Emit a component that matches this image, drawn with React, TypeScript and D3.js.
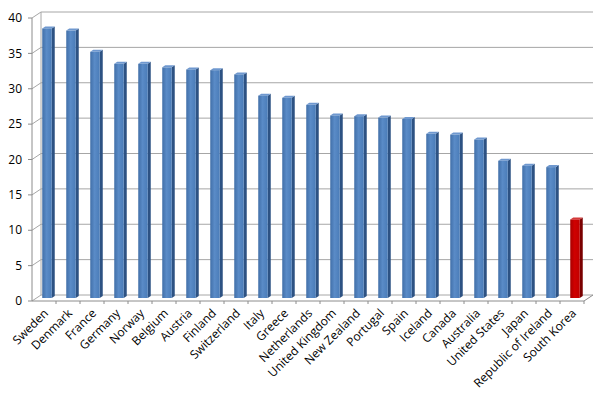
import * as d3 from "d3";

const countries = [
  "Sweden", "Denmark", "France", "Germany", "Norway", "Belgium", "Austria",
  "Finland", "Switzerland", "Italy", "Greece", "Netherlands", "United Kingdom",
  "New Zealand", "Portugal", "Spain", "Iceland", "Canada", "Australia",
  "United States", "Japan", "Republic of Ireland", "South Korea",
];
const values = [
  38.1, 37.8, 34.8, 33.1, 33.1, 32.6, 32.3, 32.2, 31.6, 28.6, 28.3, 27.3, 25.8,
  25.7, 25.5, 25.3, 23.2, 23.1, 22.4, 19.4, 18.7, 18.5, 11.1,
];
const yTicks = [0, 5, 10, 15, 20, 25, 30, 35, 40];
const highlight = "South Korea";

// 3d depth offset between front edge of floor and back wall
const DX = 9;
const DY = -6;

export default function App() {
  const W = 600;
  const H = 393;

  const x = d3.scaleBand<string>().domain(countries).range([32, 584]);
  const yFront = d3.scaleLinear().domain([0, 40]).range([301, 18]);
  const yBack = (v: number) => yFront(v) + DY;
  const yMid = (v: number) => yFront(v) + DY / 2;

  const bw = x.bandwidth();
  const barW = 9.5;
  const depth = 3;
  const rise = 2;

  const grid = "#a6a6a6";
  const axis = "#8c8c8c";

  return (
    <svg
      width={W}
      height={H}
      style={{ position: "fixed", left: 0, top: 0, background: "#fff" }}
      fontFamily="Open Sans, sans-serif"
    >
      <defs>
        <linearGradient id="blueFront" x1="0" x2="1" y1="0" y2="0">
          <stop offset="0" stopColor="#416fa8" />
          <stop offset="0.45" stopColor="#5a8bc7" />
          <stop offset="1" stopColor="#4a7cb8" />
        </linearGradient>
        <linearGradient id="redFront" x1="0" x2="1" y1="0" y2="0">
          <stop offset="0" stopColor="#a80000" />
          <stop offset="0.45" stopColor="#d00000" />
          <stop offset="1" stopColor="#c00000" />
        </linearGradient>
      </defs>

      {/* back wall gridlines + left wall diagonals */}
      {yTicks.map((t) => (
        <g key={t}>
          <line x1={32 + DX} x2={584 + DX} y1={yBack(t)} y2={yBack(t)} stroke={grid} />
          <line x1={32} x2={32 + DX} y1={yFront(t)} y2={yBack(t)} stroke={grid} />
          <line x1={28} x2={32} y1={yFront(t)} y2={yFront(t)} stroke={axis} />
          <text
            x={22}
            y={yFront(t)}
            dy="0.35em"
            textAnchor="end"
            fontSize={12}
            fill="#000"
          >
            {t}
          </text>
        </g>
      ))}
      <line x1={32 + DX} x2={32 + DX} y1={yBack(40)} y2={yBack(0)} stroke={grid} />
      <line x1={32} x2={32} y1={yFront(40)} y2={yFront(0)} stroke={axis} />

      {/* floor */}
      <line x1={32} x2={584} y1={yFront(0)} y2={yFront(0)} stroke={axis} />
      <line x1={584} x2={584 + DX} y1={yFront(0)} y2={yBack(0)} stroke={axis} />
      {countries.map((c) => (
        <line
          key={c}
          x1={(x(c) ?? 0) + bw}
          x2={(x(c) ?? 0) + bw}
          y1={yFront(0)}
          y2={yFront(0) + 3}
          stroke={axis}
        />
      ))}

      {/* bars */}
      {countries.map((c, i) => {
        const v = values[i];
        const x0 = (x(c) ?? 0) + (bw - barW - depth) / 2 + DX / 2;
        const yt = yMid(v);
        const yb = yMid(0);
        const red = c === highlight;
        const side = red ? "#7a0000" : "#2d5283";
        const top = red ? "#d43a3a" : "#6f98cf";
        return (
          <g key={c}>
            <polygon
              points={`${x0 + barW},${yt} ${x0 + barW + depth},${yt - rise} ${x0 + barW + depth},${yb - rise} ${x0 + barW},${yb}`}
              fill={side}
            />
            <polygon
              points={`${x0},${yt} ${x0 + barW},${yt} ${x0 + barW + depth},${yt - rise} ${x0 + depth},${yt - rise}`}
              fill={top}
            />
            <rect
              x={x0}
              y={yt}
              width={barW}
              height={yb - yt}
              fill={red ? "url(#redFront)" : "url(#blueFront)"}
            />
          </g>
        );
      })}

      {/* category labels */}
      {countries.map((c) => {
        const cx = (x(c) ?? 0) + bw / 2 + 2;
        const cy = 311;
        return (
          <text
            key={c}
            transform={`translate(${cx},${cy}) rotate(-45)`}
            textAnchor="end"
            dy="0.35em"
            fontSize={12}
            fill="#000"
          >
            {c}
          </text>
        );
      })}
    </svg>
  );
}
